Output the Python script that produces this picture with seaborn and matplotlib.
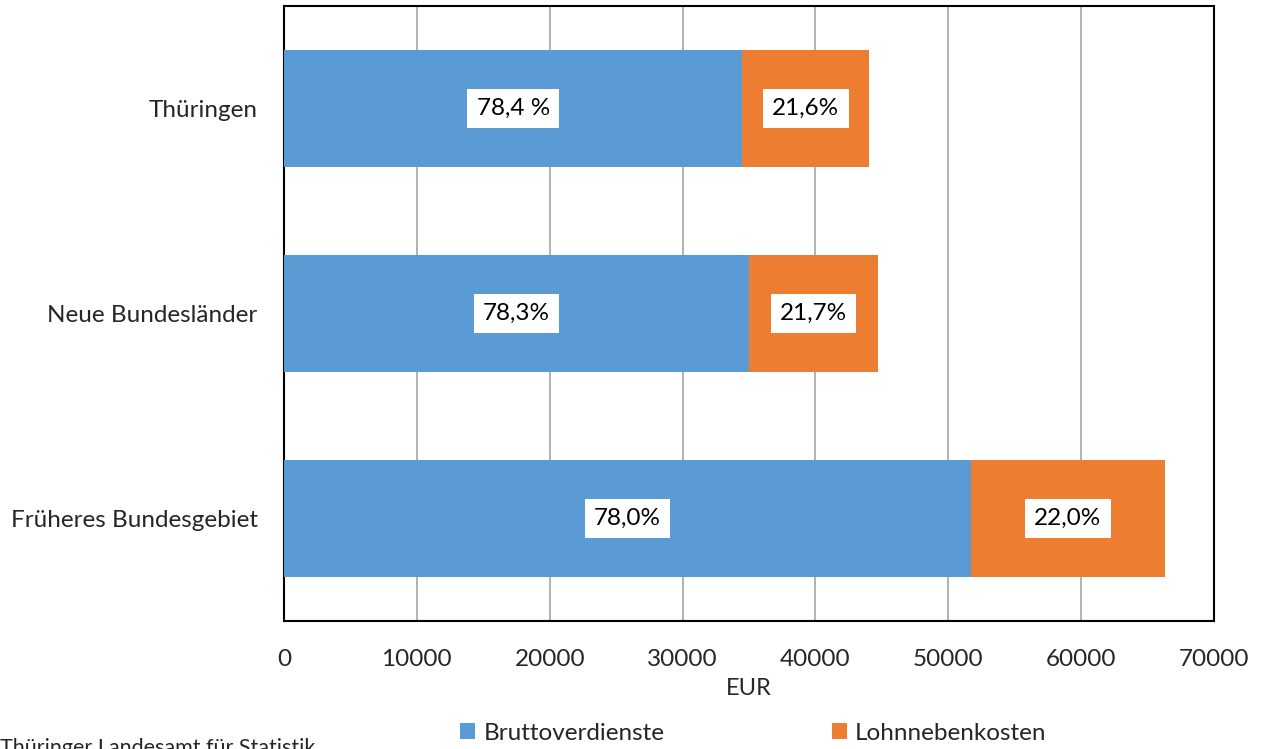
import matplotlib
matplotlib.use("Agg")
import matplotlib.pyplot as plt
import seaborn as sns
import pandas as pd
from matplotlib.patches import Patch

categories = ["Thüringen", "Neue Bundesländer", "Früheres Bundesgebiet"]
brutto = [34500, 35000, 51700]
lohnneben = [9550, 9700, 14600]
brutto_labels = ["78,4 %", "78,3%", "78,0%"]
neben_labels = ["21,6%", "21,7%", "22,0%"]
series_names = ["Bruttoverdienste", "Lohnnebenkosten"]
xticks = [0, 10000, 20000, 30000, 40000, 50000, 60000, 70000]

BLUE = "#5B9BD5"
ORANGE = "#ED7D31"

sns.set_theme(style="white")
plt.rcParams["font.family"] = ["Lato", "DejaVu Sans"]

df = pd.DataFrame({"cat": categories, "brutto": brutto, "neben": lohnneben})
df["total"] = df["brutto"] + df["neben"]

fig = plt.figure(figsize=(12.61, 7.49), dpi=100)
ax = fig.add_axes([0.2252, 0.1709, 0.7375, 0.8211])

sns.barplot(data=df, y="cat", x="total", color=ORANGE, orient="h", width=0.566,
            ax=ax, saturation=1, zorder=3, linewidth=0)
sns.barplot(data=df, y="cat", x="brutto", color=BLUE, orient="h", width=0.566,
            ax=ax, saturation=1, zorder=4, linewidth=0)

ax.set_xlim(0, 70000)
ax.set_ylim(2.5, -0.5)
ax.set_xticks(xticks)
ax.set_xticklabels([str(t) for t in xticks], fontsize=17.5)
ax.tick_params(axis="x", pad=20, length=0)
ax.tick_params(axis="y", pad=19, length=0, labelsize=17.5)
ax.set_ylabel("")
ax.set_xlabel("EUR", fontsize=17, labelpad=6)
ax.grid(axis="x", color="#A6A6A6", linewidth=1.2, zorder=0)
ax.set_axisbelow(True)
for s in ax.spines.values():
    s.set_visible(True)
    s.set_color("black")
    s.set_linewidth(1.5)

box = dict(boxstyle="square,pad=0.38", facecolor="white", edgecolor="none")
for i, (b, n) in enumerate(zip(brutto, lohnneben)):
    ax.text(b / 2, i, brutto_labels[i], ha="center", va="center", fontsize=17.5,
            color="black", bbox=box, zorder=6)
    ax.text(b + n / 2, i, neben_labels[i], ha="center", va="center", fontsize=17.5,
            color="black", bbox=box, zorder=6)

handles = [Patch(facecolor=BLUE, edgecolor="none"), Patch(facecolor=ORANGE, edgecolor="none")]
fig.legend(handles, series_names, loc="center", bbox_to_anchor=(0.5975, 0.021), ncol=2,
           frameon=False, fontsize=17.5, handlelength=0.6, handleheight=0.6,
           handletextpad=0.35, columnspacing=6.9)

fig.text(0.0, -0.012, "Thüringer Landesamt für Statistik", fontsize=15.5, ha="left", va="bottom")

fig.savefig("out.png", dpi=100)
